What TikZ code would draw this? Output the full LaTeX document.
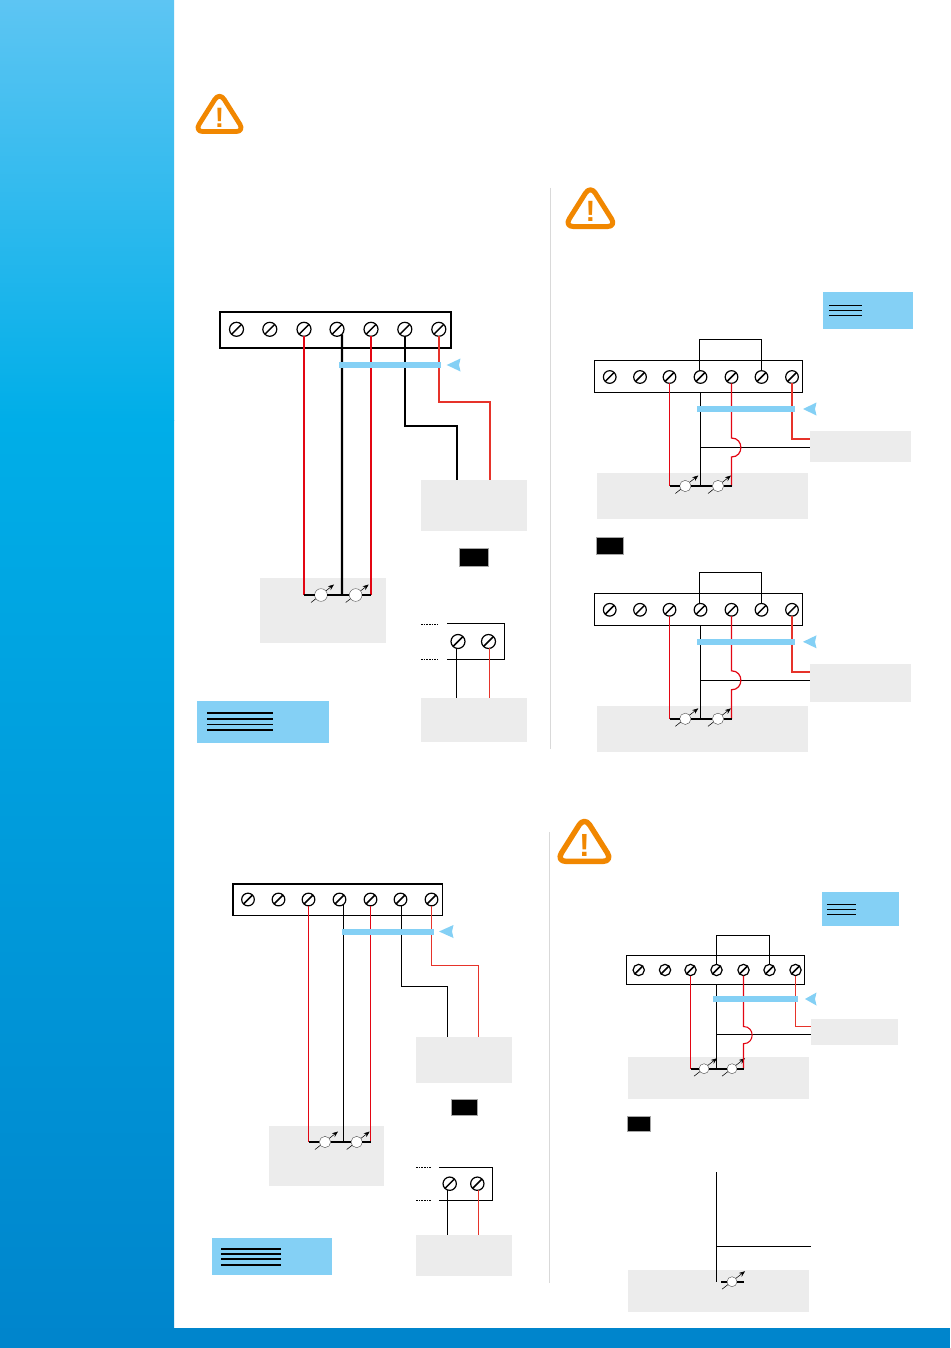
\documentclass[tikz,border=0pt]{standalone}
\usepackage{fontspec}
\setsansfont{Liberation Sans}
\usetikzlibrary{arrows.meta}
\definecolor{panelgray}{HTML}{ECECEC}
\definecolor{skyblue}{HTML}{84D0F5}
\definecolor{wirered}{HTML}{E30613}
\definecolor{wireorange}{HTML}{E6332A}
\definecolor{warnorange}{HTML}{F18700}
\definecolor{barblue}{HTML}{0085CC}
\tikzset{
  grayblock/.style={rectangle, fill=panelgray, inner sep=0pt, outer sep=0pt},
  blueblock/.style={rectangle, fill=skyblue, inner sep=0pt, outer sep=0pt},
  tagblock/.style={rectangle, fill=black, draw=gray!70, line width=0.4pt, inner sep=0pt, outer sep=0pt},
  stripbig/.style={rectangle, draw=black, line width=1.6pt, inner sep=0pt, outer sep=0pt},
  stripthin/.style={rectangle, draw=black, line width=0.8pt, inner sep=0pt, outer sep=0pt},
  screw/.style={circle, draw=black, line width=0.9pt, inner sep=0pt, outer sep=0pt, minimum size=#1,
    path picture={\draw[line width=1.1pt] (path picture bounding box.south west) -- (path picture bounding box.north east);}},
  sensor/.style={circle, draw=black!70, fill=white, line width=0.3pt, inner sep=0pt, outer sep=0pt, minimum size=#1},
  sensorarrow/.style={line width=0.4pt, -{Stealth[length=4.5pt,width=3.5pt]}},
  redwire/.style={draw=wirered, line width=#1},
  orangewire/.style={draw=wireorange, line width=#1},
  blackwire/.style={draw=black, line width=#1},
  coverbar/.style={rectangle, fill=skyblue, inner sep=0pt, outer sep=0pt},
  legendline/.style={draw=black, line width=#1},
  dottedstub/.style={draw=black, line width=0.6pt, dash pattern=on 1.2pt off 0.8pt}
}
% block given by its corners, in pixels
\newcommand{\cornerblock}[6]{\node[#1, minimum width={(#5-#3)*0.75pt}, minimum height={(#6-#4)*0.75pt}] (#2) at ({(#3+#5)/2},{(#4+#6)/2}) {};}
% sensor with its crossing arrow
\newcommand{\tempsensor}[4]{\draw[sensorarrow] ({#2-10},{#3+7.5}) -- ({#2+13},{#3-10.5});
  \node[sensor=#4] (#1) at (#2,#3) {};}
% blue pointer right of a bar
\newcommand{\bluepointer}[3]{\fill[skyblue] (#1,#3) -- ({#2+0.5},{#3-6.5}) -- ({#2-1},#3) -- ({#2+0.5},{#3+6.5}) -- cycle;}
% warning triangle
\newcommand{\warnsign}[5]{\begin{scope}[shift={(#2,#3)}, scale=#4]
    \draw[warnorange, line width={#4*3.6pt}, line join=round, rounded corners={#4*6.5pt}] (22.5,-3) -- (-2.5,36.6) -- (47.5,36.6) -- cycle;
    \node[text=warnorange, font=\fontsize{#5}{#5}\selectfont\sffamily\bfseries, inner sep=0pt] (#1) at (22.5,22.5) {!};
  \end{scope}}

\begin{document}
\begin{tikzpicture}[x=0.75pt, y=-0.75pt]
  \useasboundingbox (0,0) rectangle (950,1348);
  \fill[white] (0,0) rectangle (950,1348);

  % Sidebar and foot
  \fill[top color={rgb,255:red,93;green,197;blue,243}, bottom color={rgb,255:red,0;green,174;blue,232}] (0,0) rectangle (174,420);
  \fill[top color={rgb,255:red,0;green,174;blue,232}, bottom color=barblue] (0,420) rectangle (174,1348);
  \fill[barblue] (0,1328) rectangle (950,1348);

  % Dividers
  \draw[gray!30, line width=0.7pt] (550.5,188) -- (550.5,749);
  \draw[gray!30, line width=0.7pt] (549.5,832) -- (549.5,1283);

  % Warning signs
  \warnsign{warna}{197}{95}{1}{21}
  \warnsign{warnb}{567}{188.5}{1.04}{22}
  \warnsign{warnc}{559}{820}{1.13}{24}

  % Top left panel
  \cornerblock{stripbig}{stripa}{220}{312}{451}{348}
  \foreach \n/\x in {1/236.5,2/269.8,3/304,4/337,5/371,6/404.8,7/438.8}
    \node[screw=10.5pt] (sa\n) at (\x,329.3) {};
  \cornerblock{grayblock}{grayaa}{421}{480}{527}{531}
  \cornerblock{grayblock}{grayab}{260}{577.5}{386}{643}
  \cornerblock{grayblock}{grayac}{421}{698}{527}{742}
  \cornerblock{tagblock}{tagaa}{459}{548}{488.5}{566}
  \cornerblock{blueblock}{legenda}{197}{701}{328.5}{742.5}
  \foreach \y in {712.7,718.7,724.3,730}
    \draw[legendline=1.2pt] (207,\y) -- (272.7,\y);
  \coordinate (pa) at (304,595);
  \coordinate (ja) at (342,595);
  \coordinate (qa) at (371,595);
  \tempsensor{ta}{321}{595}{9.5pt}
  \tempsensor{tb}{355.7}{595}{9.5pt}
  \draw[redwire=1.6pt] (sa3.south) -- (pa);
  \draw[blackwire=1.6pt] (sa4.south east) -- (ja);
  \draw[redwire=1.6pt] (sa5.south) -- (qa);
  \draw[blackwire=1.6pt] (sa6.south) -- (404.8,426) -- (457,426) -- (457,480);
  \draw[orangewire=1.5pt] (sa7.south) -- (438.8,402) -- (490,402) -- (490,480);
  \draw[blackwire=1.7pt] (pa) -- (ta) -- (ja) -- (tb) -- (qa);
  \cornerblock{coverbar}{bara}{339}{362}{440.5}{368}
  \bluepointer{446.7}{460}{365}
  % Small terminal
  \node[screw=10.5pt] (sma1) at (458,641.5) {};
  \node[screw=10.5pt] (sma2) at (488.5,641.5) {};
  \draw[blackwire=0.8pt] (447,623.5) -- (504.5,623.5) -- (504.5,659.5) -- (447,659.5);
  \draw[dottedstub] (421,624.5) -- (438,624.5);
  \draw[dottedstub] (421,659.5) -- (438,659.5);
  \coordinate (wa1) at (456.5,647.5);
  \coordinate (wa2) at (489.5,647.5);
  \draw[blackwire=0.8pt] (wa1) -- (wa1 |- grayac.north);
  \draw[orangewire=0.8pt] (wa2) -- (wa2 |- grayac.north);

  % Right panels, same wiring twice
  \foreach \p/\oy in {b/0,c/232.8}{
    \begin{scope}[shift={(0,\oy)}]
      \cornerblock{stripthin}{strip\p}{594.3}{360.3}{802.3}{392.3}
      \foreach \n/\x in {1/609.7,2/640,3/669.5,4/700.5,5/731.5,6/761.5,7/792}
        \node[screw=9.5pt] (s\p\n) at (\x,377) {};
      \cornerblock{grayblock}{gray\p}{597}{472.7}{807.7}{518.7}
      \coordinate (p\p) at (669.5,486);
      \coordinate (j\p) at (700.5,486);
      \coordinate (q\p) at (731.5,486);
      \coordinate (ju\p) at (699.5,371);
      \tempsensor{t\p1}{685.3}{486}{8.5pt}
      \tempsensor{t\p2}{718}{486}{8.5pt}
      \draw[blackwire=0.8pt] (ju\p) -- (699.5,339.5) -- (761.5,339.5) -- (s\p6.north);
      \draw[redwire=0.8pt] (s\p3.south) -- (p\p);
      \draw[blackwire=0.8pt] (strip\p.south -| j\p) -- (j\p);
      \draw[blackwire=0.8pt] (700.5,447.5) -- (810,447.5);
      \draw[redwire=0.9pt] (s\p5.south) -- (731.5,438) .. controls (744,438) and (744,457) .. (731.5,457) -- (q\p);
      \draw[orangewire=1.6pt] (s\p7.south) -- (792,439) -- (810,439);
      \draw[blackwire=1.6pt] (p\p) -- (t\p1) -- (j\p) -- (t\p2) -- (q\p);
      \cornerblock{coverbar}{bar\p}{696.7}{406}{794.7}{412}
      \bluepointer{803}{816}{409}
    \end{scope}
  }
  \cornerblock{grayblock}{grayba}{810}{430.7}{911.3}{461.7}
  \cornerblock{grayblock}{grayca}{810}{664}{911.3}{702}
  \cornerblock{blueblock}{legendb}{823}{291.7}{913}{329}
  \foreach \y in {305,310,315}
    \draw[legendline=0.7pt] (829,\y) -- (862,\y);
  \cornerblock{tagblock}{tagb}{596.7}{537}{623}{554}

  % Lower left panel
  \cornerblock{stripthin}{stripd}{233}{884}{442.5}{915.5}
  \foreach \n/\x in {1/248,2/278.5,3/308.5,4/339.5,5/370.5,6/400.5,7/431.5}
    \node[screw=9.5pt] (sd\n) at (\x,899.5) {};
  \cornerblock{grayblock}{graydb}{416}{1037}{512.3}{1083}
  \cornerblock{grayblock}{graydc}{269}{1125.7}{384}{1185.7}
  \cornerblock{grayblock}{graydd}{416}{1235}{512.3}{1275.7}
  \cornerblock{tagblock}{tagd}{451}{1099}{477}{1115.5}
  \cornerblock{blueblock}{legendd}{212}{1238}{332}{1275.3}
  \foreach \y in {1248.7,1254,1259.2,1265}
    \draw[legendline=1.2pt] (221,\y) -- (281,\y);
  \coordinate (pd) at (308.5,1142);
  \coordinate (jd) at (343.5,1142);
  \coordinate (qd) at (370.5,1142);
  \coordinate (jdtop) at (343.5,904.5);
  \coordinate (wdb) at (401.5,906);
  \tempsensor{td1}{325}{1142}{8.5pt}
  \tempsensor{td2}{356.7}{1142}{8.5pt}
  \draw[redwire=0.8pt] (sd3.south) -- (pd);
  \draw[blackwire=0.8pt] (jdtop) -- (jd);
  \draw[redwire=0.8pt] (sd5.south) -- (qd);
  \draw[blackwire=0.8pt] (wdb) -- (401.5,986.5) -- (447.5,986.5) -- (447.5,1037);
  \draw[orangewire=0.8pt] (sd7.south) -- (431.5,965.5) -- (478.5,965.5) -- (478.5,1037);
  \draw[blackwire=1.6pt] (pd) -- (td1) -- (jd) -- (td2) -- (qd);
  \cornerblock{coverbar}{bard}{341.5}{928.5}{434}{934.5}
  \bluepointer{439}{453}{931.5}
  % Small terminal
  \node[screw=10pt] (smd1) at (449.7,1183.7) {};
  \node[screw=10pt] (smd2) at (477.3,1183.7) {};
  \draw[blackwire=0.8pt] (439.3,1167.5) -- (492.5,1167.5) -- (492.5,1200.5) -- (439.3,1200.5);
  \draw[dottedstub] (416,1167.5) -- (431,1167.5);
  \draw[dottedstub] (416,1200.5) -- (431,1200.5);
  \coordinate (wd1) at (447.5,1190);
  \coordinate (wd2) at (478.5,1190);
  \draw[blackwire=0.8pt] (wd1) -- (wd1 |- graydd.north);
  \draw[orangewire=0.8pt] (wd2) -- (wd2 |- graydd.north);

  % Lower right panel
  \cornerblock{stripthin}{stripe}{626.3}{955.3}{804.7}{984.3}
  \foreach \n/\x in {1/638.7,2/665,3/690.5,4/716.5,5/743.5,6/769.5,7/795.5}
    \node[screw=8.5pt] (se\n) at (\x,970) {};
  \cornerblock{grayblock}{grayea}{811}{1019}{898}{1045}
  \cornerblock{grayblock}{grayeb}{628}{1057}{809}{1099}
  \cornerblock{blueblock}{legende}{822.3}{892.3}{899.3}{926.3}
  \foreach \y in {904.3,909.3,914.3}
    \draw[legendline=0.7pt] (827.3,\y) -- (855.7,\y);
  \cornerblock{tagblock}{tage}{627.7}{1116}{650}{1131.3}
  \coordinate (pe) at (690.5,1068.7);
  \coordinate (je) at (716.5,1068.7);
  \coordinate (qe) at (743.5,1068.7);
  \tempsensor{te1}{704}{1068.7}{7.5pt}
  \tempsensor{te2}{732}{1068.7}{7.5pt}
  \draw[blackwire=0.8pt] (se4.north) -- (716.5,935.5) -- (769.5,935.5) -- (se6.north);
  \draw[redwire=0.8pt] (se3.south) -- (pe);
  \draw[blackwire=0.8pt] (stripe.south -| je) -- (je);
  \draw[blackwire=0.8pt] (716.5,1034.5) -- (811,1034.5);
  \draw[redwire=0.8pt] (se5.south) -- (743.5,1026.5) .. controls (755,1026.5) and (755,1043.7) .. (743.5,1043.7) -- (qe);
  \draw[orangewire=0.8pt] (se7.south) -- (795.5,1026.5) -- (811,1026.5);
  \draw[blackwire=1.5pt] (pe) -- (te1) -- (je) -- (te2) -- (qe);
  \cornerblock{coverbar}{bare}{713.3}{996}{797.7}{1002}
  \bluepointer{805}{816}{999}

  % Bottom right stub
  \cornerblock{grayblock}{grayfa}{628}{1269.7}{809}{1311.7}
  \coordinate (ftop) at (716.5,1172);
  \coordinate (fend) at (716.5,1281.7);
  \coordinate (fleft) at (721,1281.7);
  \coordinate (fright) at (743.7,1281.7);
  \tempsensor{tf}{732}{1281.7}{7.5pt}
  \draw[blackwire=0.8pt] (ftop) -- (fend);
  \draw[blackwire=0.8pt] (716.5,1246.5) -- (811,1246.5);
  \draw[blackwire=1.5pt] (fleft) -- (tf) -- (fright);
\end{tikzpicture}
\end{document}
